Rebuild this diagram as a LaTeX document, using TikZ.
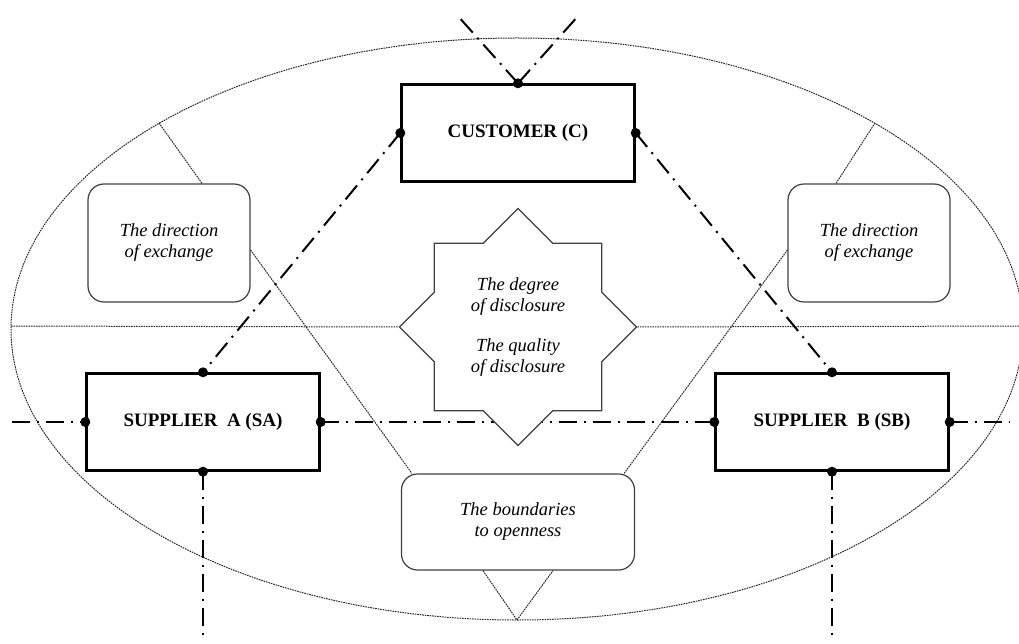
\documentclass[tikz,border=0pt]{standalone}
\usepackage{fontspec}
\setmainfont{Liberation Serif}
\usetikzlibrary{shapes.geometric,calc}

\tikzset{
  mainbox/.style={draw,line width=2.4pt,minimum width=233pt,minimum height=97pt,
    font=\fontsize{19}{22}\selectfont\bfseries},
  infobox/.style={draw=black!75,line width=1.2pt,rounded corners=16pt,align=center,
    font=\fontsize{18.5}{21}\selectfont\itshape},
  dashdot/.style={line width=2pt,dash pattern=on 18pt off 7pt on 2pt off 7pt},
  fineline/.style={line width=1pt,black!85,dash pattern=on 1.6pt off 0.9pt}
}

\begin{document}
\begin{tikzpicture}[x=1pt,y=-1pt]
\useasboundingbox (0,0) rectangle (1019,644);

% outer ring and its points
\draw[fineline] (517,329) ellipse [x radius=506pt, y radius=291pt];
\coordinate (ringTL) at (159,123);
\coordinate (ringTR) at (875,123);
\coordinate (ringB) at (517,620);
\coordinate (ringL) at (11,326);
\coordinate (ringR) at (1023,326);
% free ends of the axes
\coordinate (farL) at (12,422);
\coordinate (farR) at (1010,422);
\coordinate (downA) at (203,640);
\coordinate (downB) at (832,640);
\coordinate (upL) at (457,15);
\coordinate (upR) at (579,15);

% parties
\node[mainbox] (cust) at (518,133) {CUSTOMER (C)};
\node[mainbox] (supA) at (203,422) {SUPPLIER\ \ A (SA)};
\node[mainbox] (supB) at (832,422) {SUPPLIER\ \ B (SB)};

% dimensions
\node[infobox,minimum width=162pt,minimum height=118pt] (dirA) at (169,243) {The direction\\of exchange};
\node[infobox,minimum width=162pt,minimum height=118pt] (dirB) at (869,243) {The direction\\of exchange};
\node[infobox,minimum width=233pt,minimum height=96pt] (bound) at (518,522) {The boundaries\\to openness};

% axes
\draw[dashdot] (cust.north) -- (upL);
\draw[dashdot] (cust.north) -- (upR);
\draw[dashdot] (cust.west) -- (supA.north);
\draw[dashdot] (cust.east) -- (supB.north);
\draw[dashdot] (farL) -- (supA.west);
\draw[dashdot] (supA.east) -- (supB.west);
\draw[dashdot] (supB.east) -- (farR);
\draw[dashdot] (supA.south) -- (downA);
\draw[dashdot] (supB.south) -- (downB);
\foreach \p in {cust.north,cust.west,cust.east,supA.north,supA.west,supA.east,supA.south,
  supB.north,supB.west,supB.east,supB.south}
  \fill (\p) circle (5pt);

%\draw (disc) circle (118pt);
\node[star,star points=8,star point ratio=1.3066,minimum size=237pt,inner sep=0pt,
  draw=black!75,line width=1.2pt,fill=white,align=center,
  font=\fontsize{18.5}{21}\selectfont\itshape] (disc) at (518,327)
  {The degree\\of disclosure\\[19pt]The quality\\of disclosure};

% sectors
\draw[fineline] (ringTL) -- ($(dirA.north)+(33,0)$);
\draw[fineline] (ringTR) -- ($(dirB.north)+(-33,0)$);
\draw[fineline] ($(dirA.east)+(0,7)$) -- ($(bound.north west)+(11,0)$);
\draw[fineline] ($(dirB.west)+(0,7)$) -- ($(bound.north east)+(-11,0)$);
\draw[fineline] ($(bound.south)+(-35,0)$) -- (ringB) -- ($(bound.south)+(35,0)$);
\draw[fineline] (ringL) -- (disc.west);
\draw[fineline] (disc.east) -- (ringR);
\end{tikzpicture}
\end{document}
